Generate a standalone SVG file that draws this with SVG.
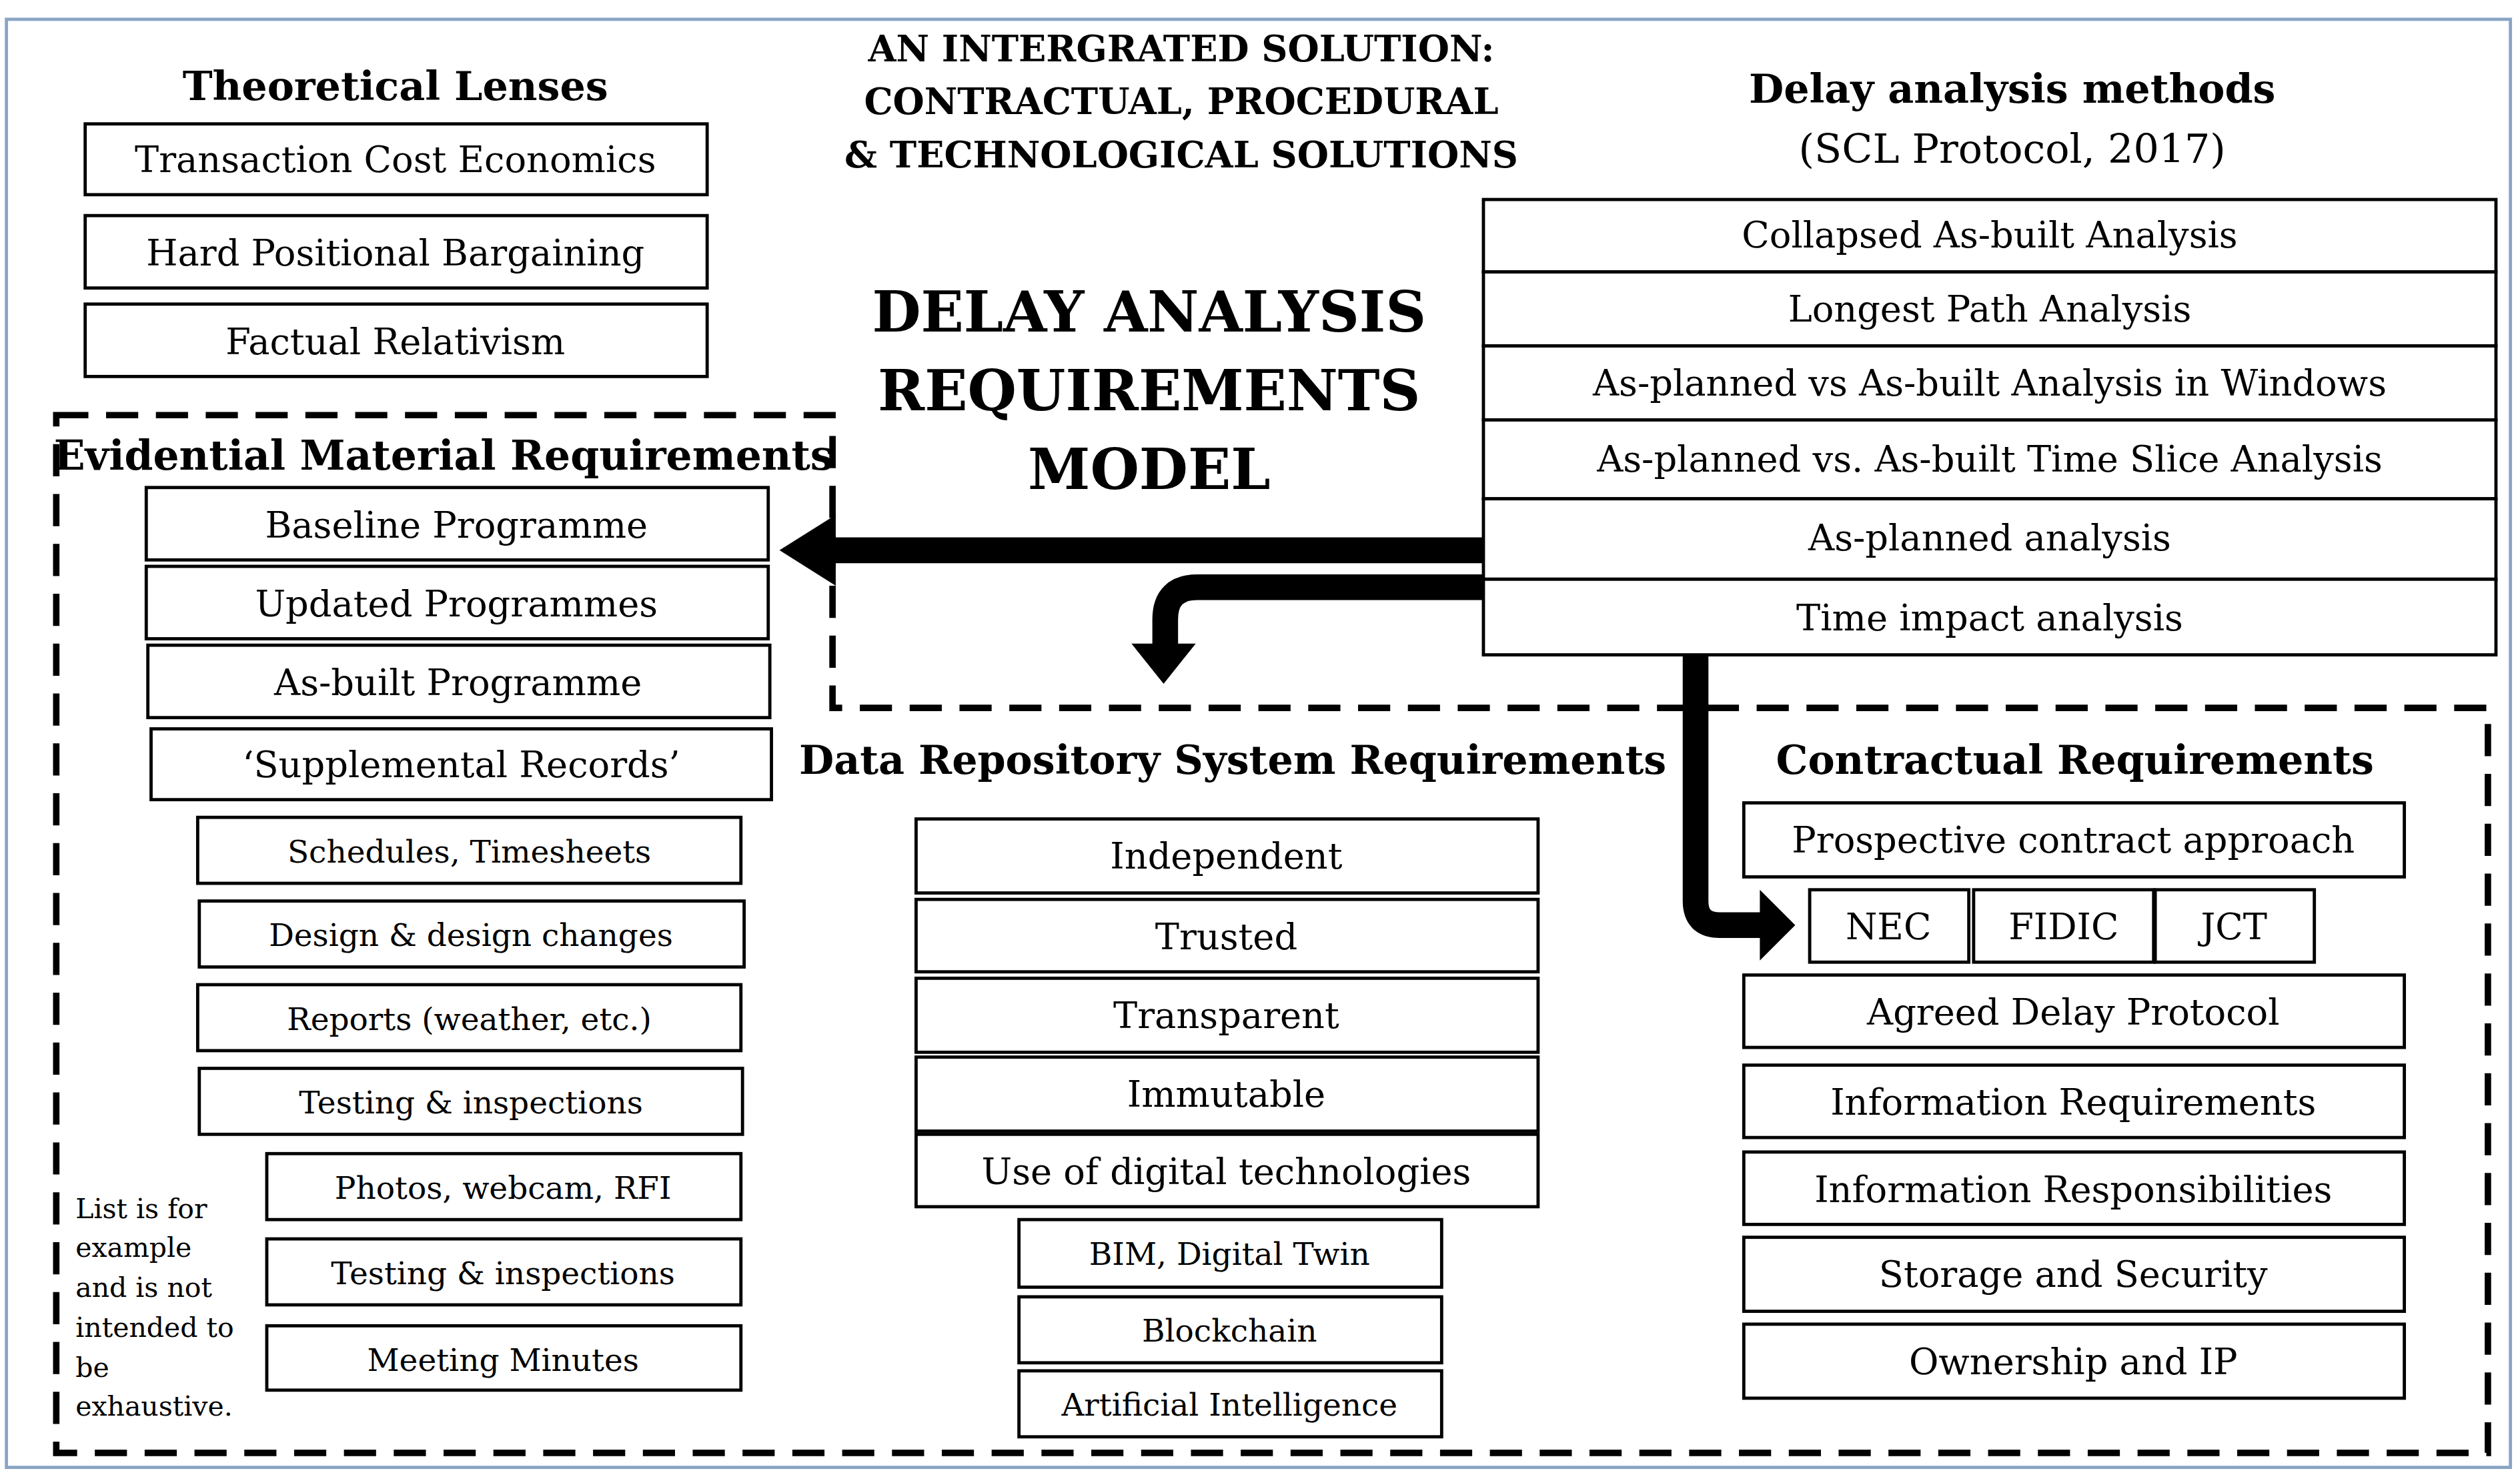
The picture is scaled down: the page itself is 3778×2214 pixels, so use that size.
<svg xmlns="http://www.w3.org/2000/svg" width="3778" height="2214" viewBox="0 0 3778 2214">
<style>
.b{fill:#fff;stroke:#000;stroke-width:2}
.t{font-family:"DejaVu Serif",serif;fill:#000;text-anchor:middle}
.l{font-size:22.5px}.s{font-size:19.5px}
.h{font-size:25px;font-weight:bold}
.k{fill:none;stroke:#000;stroke-width:16}
</style>
<rect width="3778" height="2214" fill="#fff"/>
<g transform="scale(2.4095,2.4118)">
<rect x="4" y="12" width="1558" height="900" fill="none" stroke="#8aa5c5" stroke-width="2"/>
<path d="M35,258 H518 V440 H1548 V903 H35 Z" fill="none" stroke="#000" stroke-width="4" stroke-dasharray="20,11"/>
<g id="title" class="t" font-weight="bold" font-size="22.5">
<text x="735" y="38">AN INTERGRATED SOLUTION:</text>
<text x="735" y="71">CONTRACTUAL, PROCEDURAL</text>
<text x="735" y="104">&amp; TECHNOLOGICAL SOLUTIONS</text>
</g>
<g id="model" class="t" font-weight="bold" font-size="35">
<text x="715" y="206">DELAY ANALYSIS</text>
<text x="715" y="255">REQUIREMENTS</text>
<text x="715" y="304">MODEL</text>
</g>
<g id="lenses">
<text class="t h" x="246" y="62">Theoretical Lenses</text>
<rect class="b" x="53" y="77" width="387" height="44"/><text class="t l" x="246" y="107">Transaction Cost Economics</text>
<rect class="b" x="53" y="134" width="387" height="45"/><text class="t l" x="246" y="165">Hard Positional Bargaining</text>
<rect class="b" x="53" y="189" width="387" height="45"/><text class="t l" x="246" y="220">Factual Relativism</text>
</g>
<g id="methods">
<text class="t h" x="1252" y="64">Delay analysis methods</text>
<text class="t" font-size="25" x="1252" y="101">(SCL Protocol, 2017)</text>
<rect class="b" x="923" y="124" width="630" height="45"/><text class="t l" x="1238" y="154">Collapsed As-built Analysis</text>
<rect class="b" x="923" y="169" width="630" height="46"/><text class="t l" x="1238" y="200">Longest Path Analysis</text>
<rect class="b" x="923" y="215" width="630" height="46"/><text class="t l" x="1238" y="246">As-planned vs As-built Analysis in Windows</text>
<rect class="b" x="923" y="261" width="630" height="49"/><text class="t l" x="1238" y="293">As-planned vs. As-built Time Slice Analysis</text>
<rect class="b" x="923" y="310" width="630" height="50"/><text class="t l" x="1238" y="342">As-planned analysis</text>
<rect class="b" x="923" y="360" width="630" height="47"/><text class="t l" x="1238" y="392">Time impact analysis</text>
</g>
<g id="evidential">
<text class="t" font-size="25.5" font-weight="bold" x="276" y="292">Evidential Material Requirements</text>
<rect class="b" x="91" y="303" width="387" height="45"/><text class="t l" x="284" y="334">Baseline Programme</text>
<rect class="b" x="91" y="352" width="387" height="45"/><text class="t l" x="284" y="383">Updated Programmes</text>
<rect class="b" x="92" y="401" width="387" height="45"/><text class="t l" x="285" y="432">As-built Programme</text>
<rect class="b" x="94" y="453" width="386" height="44"/><text class="t l" x="287" y="483">‘Supplemental Records’</text>
<rect class="b" x="123" y="508" width="338" height="41"/><text class="t s" x="292" y="536">Schedules, Timesheets</text>
<rect class="b" x="124" y="560" width="339" height="41"/><text class="t s" x="293" y="588">Design &amp; design changes</text>
<rect class="b" x="123" y="612" width="338" height="41"/><text class="t s" x="292" y="640">Reports (weather, etc.)</text>
<rect class="b" x="124" y="664" width="338" height="41"/><text class="t s" x="293" y="692">Testing &amp; inspections</text>
<rect class="b" x="166" y="717" width="295" height="41"/><text class="t s" x="313" y="745">Photos, webcam, RFI</text>
<rect class="b" x="166" y="770" width="295" height="41"/><text class="t s" x="313" y="798">Testing &amp; inspections</text>
<rect class="b" x="166" y="824" width="295" height="40"/><text class="t s" x="313" y="852">Meeting Minutes</text>
<g font-family="DejaVu Serif,serif" font-size="17">
<text x="47" y="757">List is for</text><text x="47" y="781">example</text><text x="47" y="806">and is not</text><text x="47" y="831">intended to</text><text x="47" y="856">be</text><text x="47" y="880">exhaustive.</text>
</g>
</g>
<g id="data">
<text class="t h" x="767" y="481">Data Repository System Requirements</text>
<rect class="b" x="570" y="509" width="387" height="46"/><text class="t l" x="763" y="540">Independent</text>
<rect class="b" x="570" y="559" width="387" height="45"/><text class="t l" x="763" y="590">Trusted</text>
<rect class="b" x="570" y="608" width="387" height="46"/><text class="t l" x="763" y="639">Transparent</text>
<rect class="b" x="570" y="657" width="387" height="46"/><text class="t l" x="763" y="688">Immutable</text>
<rect class="b" x="570" y="705" width="387" height="45"/><text class="t l" x="763" y="736">Use of digital technologies</text>
<rect class="b" x="634" y="758" width="263" height="42"/><text class="t s" x="765" y="786">BIM, Digital Twin</text>
<rect class="b" x="634" y="806" width="263" height="41"/><text class="t s" x="765" y="834">Blockchain</text>
<rect class="b" x="634" y="852" width="263" height="41"/><text class="t s" x="765" y="880">Artificial Intelligence</text>
</g>
<g id="contract">
<text class="t h" x="1291" y="481">Contractual Requirements</text>
<rect class="b" x="1085" y="499" width="411" height="46"/><text class="t l" x="1290" y="530">Prospective contract approach</text>
<rect class="b" x="1126" y="553" width="99" height="45"/><text class="t l" x="1175" y="584">NEC</text>
<rect class="b" x="1228" y="553" width="112" height="45"/><text class="t l" x="1284" y="584">FIDIC</text>
<rect class="b" x="1341" y="553" width="99" height="45"/><text class="t l" x="1390" y="584">JCT</text>
<rect class="b" x="1085" y="606" width="411" height="45"/><text class="t l" x="1290" y="637">Agreed Delay Protocol</text>
<rect class="b" x="1085" y="662" width="411" height="45"/><text class="t l" x="1290" y="693">Information Requirements</text>
<rect class="b" x="1085" y="716" width="411" height="45"/><text class="t l" x="1290" y="747">Information Responsibilities</text>
<rect class="b" x="1085" y="769" width="411" height="46"/><text class="t l" x="1290" y="800">Storage and Security</text>
<rect class="b" x="1085" y="823" width="411" height="46"/><text class="t l" x="1290" y="854">Ownership and IP</text>
</g>
<g id="connectors">
<path class="k" d="M923,342 H515"/>
<polygon points="485,342 520,320 520,364"/>
<path class="k" d="M923,365 H745 Q725,365 725,385 V402"/>
<polygon points="704,400 744,400 724,425"/>
<path class="k" d="M1055,407 V560 Q1055,575 1070,575 H1097"/>
<polygon points="1095,553 1095,597 1117,575"/>
</g>
</g>
</svg>
